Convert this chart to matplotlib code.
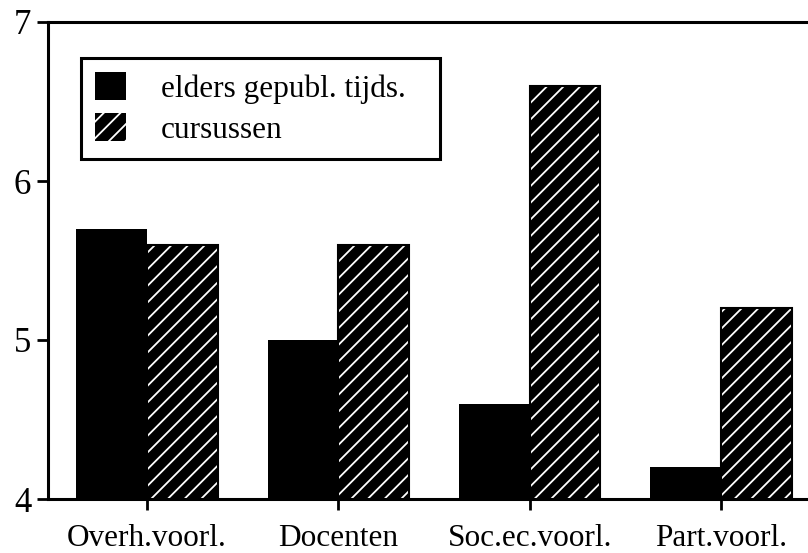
import numpy as np
import matplotlib
matplotlib.use("Agg")
import matplotlib.pyplot as plt

# data
categories = ["Overh.voorl.", "Docenten", "Soc.ec.voorl.", "Part.voorl."]
elders = [5.7, 5.0, 4.6, 4.2]
cursussen = [5.6, 5.6, 6.6, 5.2]
series_names = ["elders gepubl. tijds.", "cursussen"]
yticks = [4, 5, 6, 7]

plt.rcParams["font.family"] = ["Liberation Serif", "DejaVu Serif"]
plt.rcParams["hatch.linewidth"] = 1.3

fig = plt.figure(figsize=(8.08, 5.53), dpi=100)
W, H = 808, 553
ax = fig.add_axes([48 / W, (H - 499) / H, (W - 48) / W, (499 - 22) / H])

x = np.arange(len(categories))
w = 0.37

ax.bar(x - w / 2, elders, w, color="black", linewidth=0,
       label=series_names[0], zorder=2)
ax.bar(x + w / 2, cursussen, w, color="black", edgecolor="white", hatch="//",
       linewidth=0, label=series_names[1], zorder=2)
# black outline round the hatched bars
ax.bar(x + w / 2, cursussen, w, fill=False, edgecolor="black", linewidth=1.5,
       zorder=3)

ax.set_ylim(4, 7)
ax.set_xlim(-0.5175, 3.455)
ax.set_yticks(yticks)
ax.set_xticks(x)
ax.set_xticklabels(categories)

for s in ["left", "top", "bottom"]:
    ax.spines[s].set_linewidth(2.2)
ax.spines["right"].set_visible(False)

ax.tick_params(axis="y", length=8, width=2, pad=4, labelsize=25)
ax.tick_params(axis="x", length=8, width=2, pad=10, labelsize=22.5)

# legend box: x 81..440, y 58..157 px
lx0, lx1, ly0, ly1 = 81, 440, 58, 157
leg = ax.legend(loc="upper left",
                bbox_to_anchor=((lx0 - 48) / 760, (499 - ly1) / 477,
                                (lx1 - lx0) / 760, (ly1 - ly0) / 477),
                mode="expand",
                fontsize=22.5, frameon=True, fancybox=False, edgecolor="black",
                handlelength=1.0, handleheight=1.0, handletextpad=1.1,
                labelspacing=0.3, borderpad=0.45, borderaxespad=0)
leg.get_frame().set_linewidth(2.2)
leg.get_frame().set_facecolor("white")
leg.get_frame().set_alpha(1)

fig.savefig("out.png", dpi=100)
